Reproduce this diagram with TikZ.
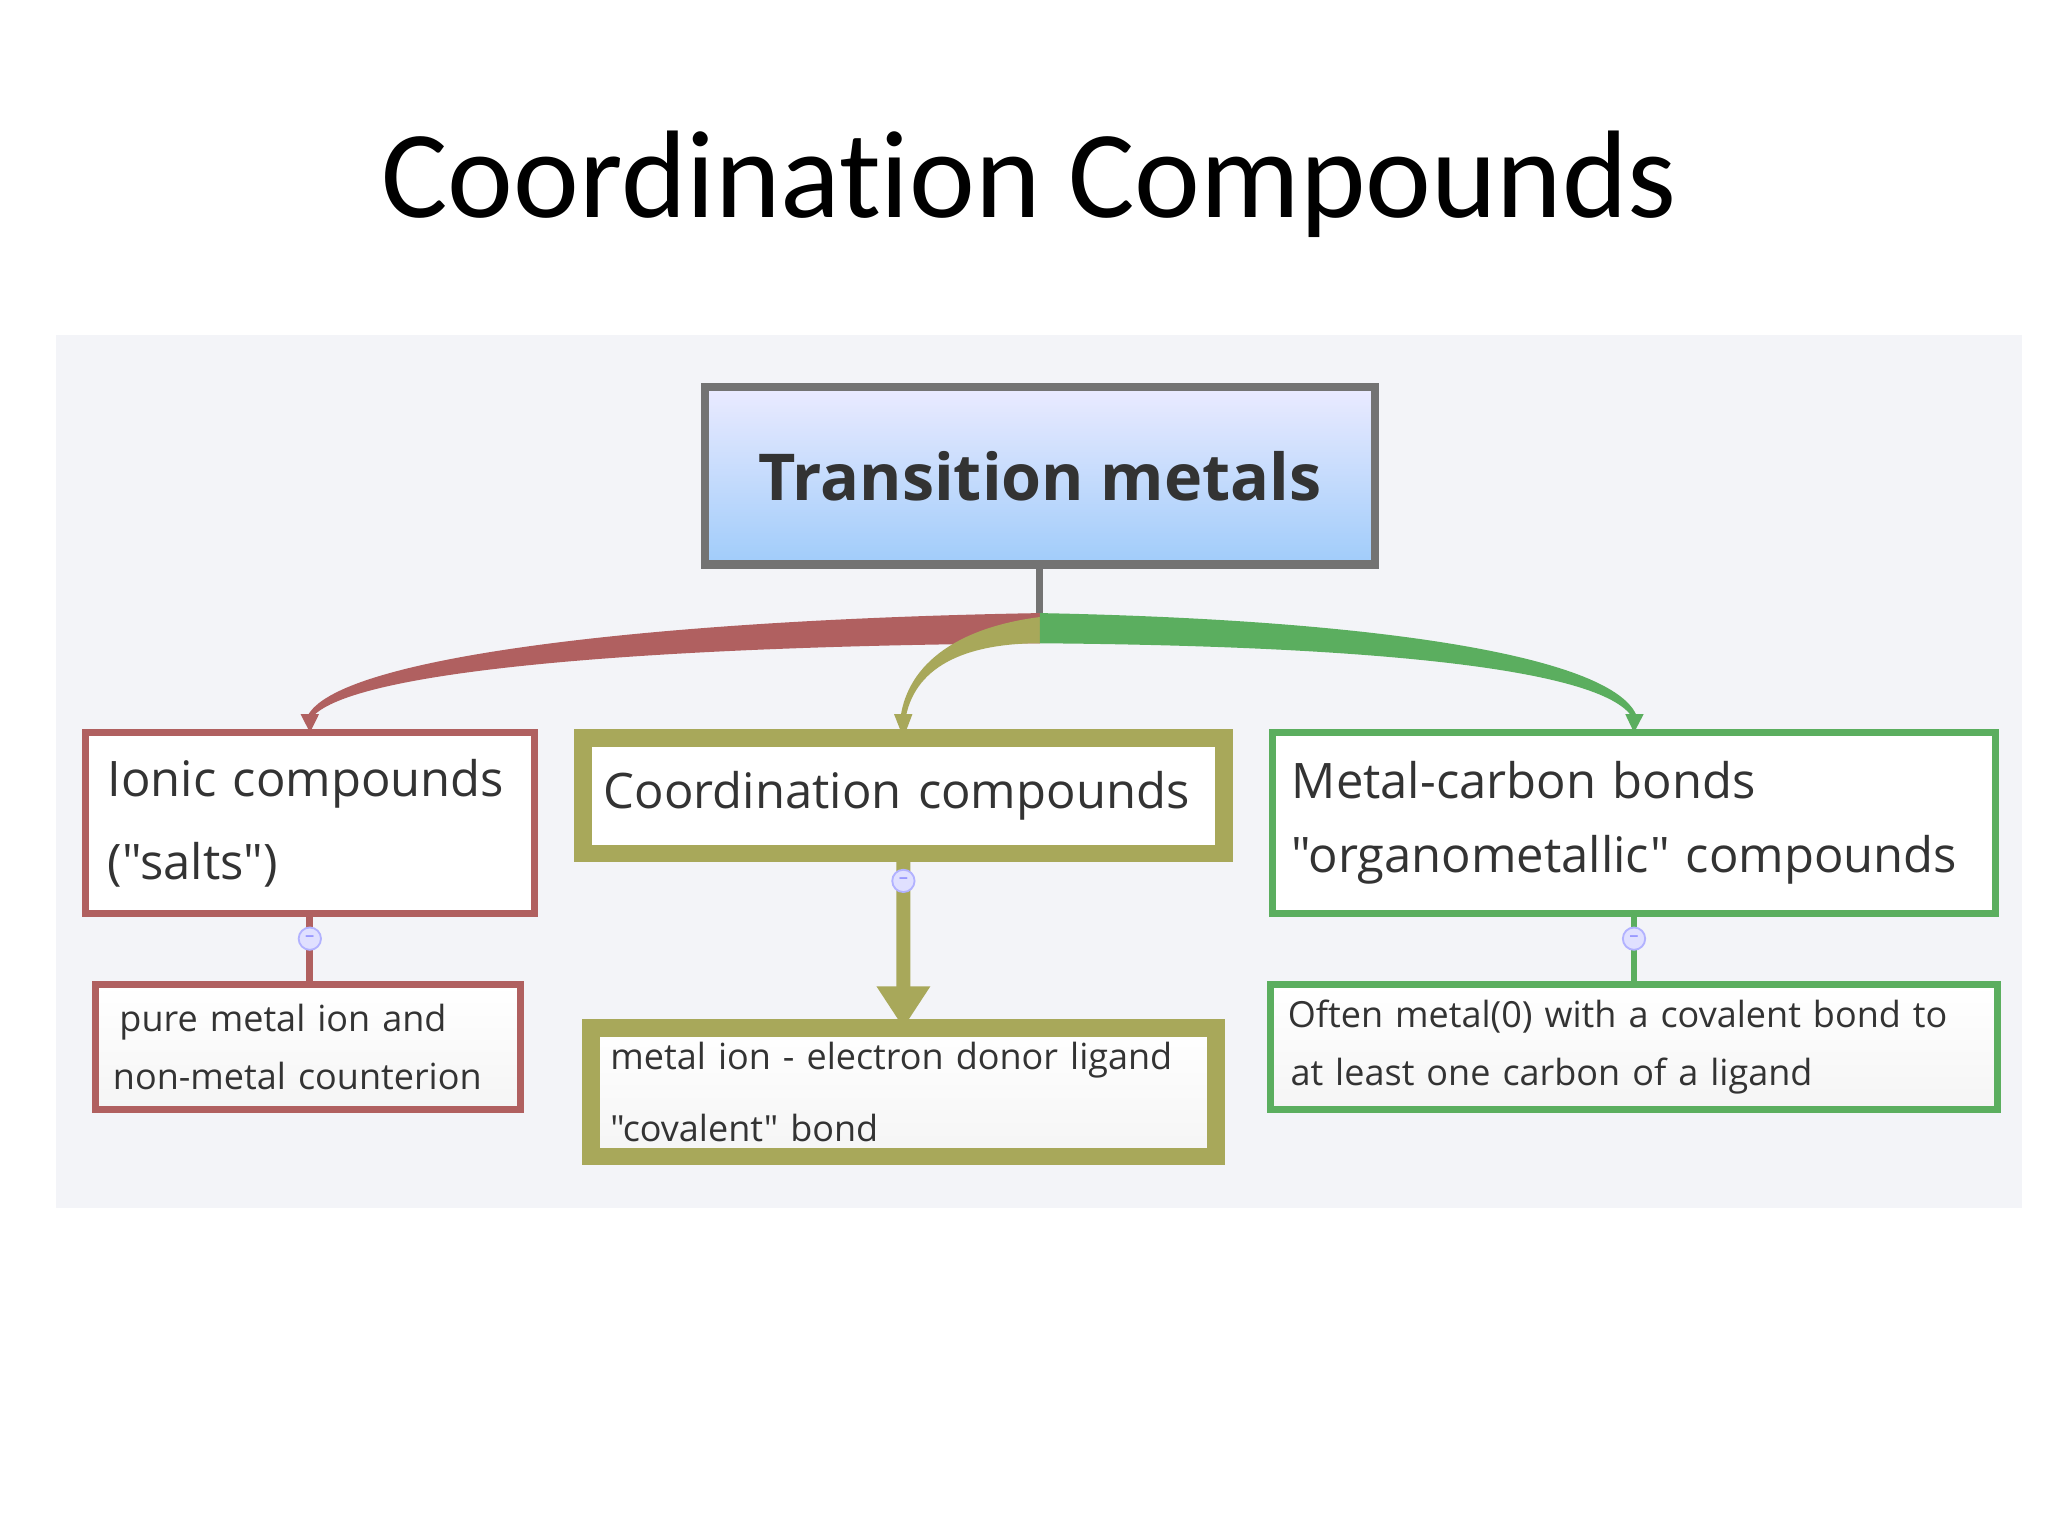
\documentclass[tikz,border=0pt]{standalone}
\usepackage{fontspec}
\setmainfont{Open Sans}
\newfontfamily\bodyfont{Open Sans}
\newfontfamily\titlefont{Carlito}[RawFeature=-liga]
\usetikzlibrary{arrows.meta}
\definecolor{panel}{HTML}{F3F4F8}
\definecolor{cred}{HTML}{B06060}
\definecolor{colive}{HTML}{A8A85A}
\definecolor{cgreen}{HTML}{5BAE5F}
\definecolor{ctext}{HTML}{333333}
\tikzset{
 lvl/.style={draw, fill=white, minimum height=#1, align=left, anchor=north west, inner sep=0pt, outer sep=0pt, text=ctext, font=\bodyfont\fontsize{10.6}{15}\selectfont},
 kid/.style={draw, top color=white, bottom color=gray!8, align=left, anchor=north west, inner sep=0pt, outer sep=0pt, text=ctext, font=\bodyfont\fontsize{7.8}{12.6}\selectfont},
 coll/.style={circle, draw=blue!30, fill=blue!12, minimum size=0.17cm, inner sep=0pt, font=\fontsize{4}{4}\selectfont, text=blue!50},
}
\begin{document}
\begin{tikzpicture}[x=0.01cm,y=-0.01cm]
\useasboundingbox (0,0) rectangle (1560,1170);
\fill[white] (0,0) rectangle (1560,1170);
\node[font=\titlefont\fontsize{27}{32}\selectfont] (title) at (784,140) {Coordination Compounds};
\fill[panel] (43,255) rectangle (1540,920);
% main
\node[draw=gray!90!black, line width=1.8pt, top color=blue!8, bottom color={rgb,255:red,160;green,204;blue,250}, minimum width=5.1cm, minimum height=1.35cm, anchor=north west, inner sep=0pt, outer sep=0pt, font=\bodyfont\bfseries\fontsize{14}{18}\selectfont, text=ctext] (root) at (537,295) {Transition metals};
\coordinate (hub) at (root.south |- 0,468);
\draw[gray!90!black, line width=1.5pt] (root.south) -- (hub);
% level 1
\node[lvl=1.38cm, draw=cred, line width=1.5pt, minimum width=3.42cm, text width=3.42cm] (ion) at (65,558) {\mbox{\hspace{0.17cm}Ionic compounds}\\[3pt]\mbox{\hspace{0.17cm}("salts")}};
\node[lvl=0.88cm, draw=colive, line width=3.8pt, minimum width=4.88cm, text width=4.88cm] (coord) at (444,562) {\mbox{\hspace{0.16cm}Coordination compounds}};
\node[lvl=1.38cm, draw=cgreen, line width=1.5pt, minimum width=5.51cm, text width=5.51cm] (mc) at (969,558) {\mbox{\hspace{0.15cm}Metal-carbon bonds}\\[1pt]\mbox{\hspace{0.15cm}"organometallic" compounds}};
% branches
\fill[cred] (hub) ++(0,-1) .. controls (500,472) and (255,500) .. (234,546) -- (238,546) .. controls (270,510) and (500,492) .. (792,490) -- cycle;
\fill[cred] (229,544) -- (243,544) -- (ion.north) -- cycle;
\fill[colive] (792,470) .. controls (730,478) and (692,505) .. (686,546) -- (690,546) .. controls (698,505) and (740,490) .. (792,490) -- cycle;
\fill[colive] (681,544) -- (695,544) -- (coord.north) -- cycle;
\fill[cgreen] (792,467) .. controls (1050,472) and (1230,500) .. (1247,546) -- (1243,546) .. controls (1220,510) and (1050,492) .. (792,490) -- cycle;
\fill[cgreen] (1238,544) -- (1252,544) -- (mc.north) -- cycle;
% level 2
\node[kid, draw=cred, line width=1.5pt, minimum width=3.23cm, minimum height=0.95cm, text width=3.23cm] (k1) at (73,750) {\mbox{\hspace{0.18cm}pure metal ion and}\\\mbox{\hspace{0.13cm}non-metal counterion}};
\node[kid, draw=colive, line width=3.8pt, minimum width=4.76cm, minimum height=0.98cm, text width=4.76cm] (k2) at (450,783) {\mbox{\hspace{0.15cm}metal ion - electron donor ligand}\\[3pt]\mbox{\hspace{0.15cm}"covalent" bond}};
\node[kid, draw=cgreen, line width=1.5pt, minimum width=5.53cm, minimum height=0.95cm, text width=5.53cm] (k3) at (968,750) {\mbox{\hspace{0.13cm}Often metal(0) with a covalent bond to}\\\mbox{\hspace{0.15cm}at least one carbon of a ligand}};
\draw[cred, line width=1.5pt] (ion.south) -- (k1.north -| ion.south);
\draw[colive, line width=3pt, -{Triangle[length=9pt,width=11pt]}] (coord.south) -- (k2.north);
\draw[cgreen, line width=1.5pt] (mc.south) -- (k3.north -| mc.south);
\node[coll] (c1) at (236,715) {--};
\node[coll] (c2) at (coord.south |- 0,671) {--};
\node[coll] (c3) at (mc.south |- 0,715) {--};
\end{tikzpicture}
\end{document}
